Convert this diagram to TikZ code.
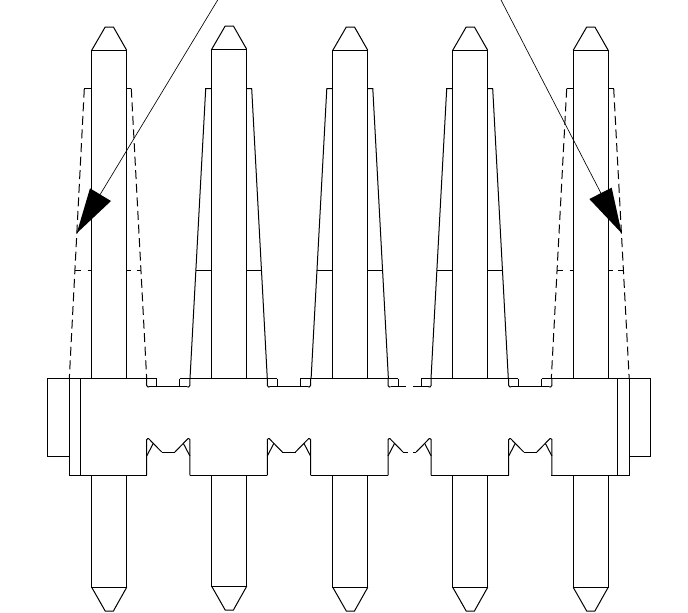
\documentclass[tikz,border=0pt]{standalone}
\begin{document}
\begin{tikzpicture}[x=1pt,y=-1pt,line join=miter,
  outline/.style={draw=black,line width=1.0pt},
  hidden/.style={outline,dash pattern=on 9pt off 4.6pt},
  thin lead/.style={draw=black,line width=0.65pt},
  head/.style={fill=black,draw=none}]
\useasboundingbox (0,0) rectangle (688,613);
% pins
\foreach \l/\sh in {91.7/0,211.7/-1,332.8/0,452.7/0,573.2/0}{
  \pgfmathsetmacro{\r}{\l+35}
  \pgfmathsetmacro{\cl}{\l+13.5}
  \pgfmathsetmacro{\cr}{\l+21.7}
  \draw[outline] (\l,378.7) -- (\l,50.3+\sh) -- (\r,50.3+\sh) -- (\r,378.7);
  \draw[outline] (\l,50.3+\sh) -- (\cl,27+\sh) -- (\cr,27+\sh) -- (\r,50.3+\sh);
  \draw[outline] (\l,475.3) -- (\l,587.3+\sh) -- (\r,587.3+\sh) -- (\r,475.3);
  \draw[outline] (\l,587.3+\sh) -- (\cl,611+\sh) -- (\cr,611+\sh) -- (\r,587.3+\sh);
}
% solid collars
\foreach \l in {211.7,332.8,452.7}{
  \pgfmathsetmacro{\r}{\l+35}
  \draw[outline] (\l,88.7) -- (\l-6,88.7) -- (\l-21.7,378.7);
  \draw[outline] (\r,88.7) -- (\r+5,88.7) -- (\r+20.6,378.7);
  \draw[outline] (\l-16,270.3) -- (\l,270.3);
  \draw[outline] (\r,270.3) -- (\r+14.8,270.3);
}
% dashed collars
\draw[outline] (91.7,88.7) -- (84.3,88.7);
\draw[hidden] (84.3,88.7) -- (69.3,378.7);
\draw[outline] (126.7,88.7) -- (131.3,88.7);
\draw[hidden] (131.3,88.7) -- (146.7,378.7);
\draw[hidden,dash pattern=on 6pt off 6.5pt] (75,270.3) -- (91.7,270.3);
\draw[hidden,dash pattern=on 4.5pt off 5.5pt] (126.7,270.3) -- (140.7,270.3);
\draw[outline] (573.2,88.7) -- (566.7,88.7);
\draw[hidden] (566.7,88.7) -- (551.3,378.7);
\draw[outline] (608.2,88.7) -- (613.7,88.7);
\draw[hidden] (613.7,88.7) -- (629.2,378.7);
\draw[hidden,dash pattern=on 6pt off 6.5pt] (557,270.3) -- (573.2,270.3);
\draw[hidden,dash pattern=on 4.5pt off 5.5pt] (608.2,270.3) -- (624,270.3);
% body outline pieces
\draw[outline] (69.3,378.7) -- (47.3,378.7) -- (47.3,456) -- (69.3,456);
\draw[outline] (69.3,378.7) -- (69.3,475.3) -- (146.7,475.3);
\draw[outline] (80.7,378.7) -- (80.7,475.3);
\draw[outline] (69.3,378.7) -- (156.7,378.7);
\draw[outline] (629.2,378.7) -- (650.7,378.7) -- (650.7,456) -- (629.2,456);
\draw[outline] (629.2,378.7) -- (629.2,475.3) -- (551.3,475.3);
\draw[outline] (617.7,378.7) -- (617.7,475.3);
\draw[outline] (541.7,378.7) -- (629.2,378.7);
\draw[outline] (179.7,378.7) -- (277.3,378.7);
\draw[outline] (300,378.7) -- (398,378.7);
\draw[outline] (420.7,378.7) -- (518.3,378.7);
\draw[outline] (190,475.3) -- (267.3,475.3);
\draw[outline] (310.7,475.3) -- (388,475.3);
\draw[outline] (431,475.3) -- (508.7,475.3);
% notches between pins
\foreach \a/\kind in {146.7/0,267.3/0,388/1,508.7/0}{
  \pgfmathsetmacro{\b}{\a+43.2}
  % top recess
  \draw[outline] (\a,378.7) -- (\a,385.5) -- (\a+1.3,387) -- (\a+2.6,386.7);
  \draw[outline] (\b,378.7) -- (\b,385.5) -- (\b-1.3,387) -- (\b-2.6,386.7);
  \draw[outline] (\a+10,378.7) -- (\a+10,386.7);
  \draw[outline] (\b-10,378.7) -- (\b-10,386.7);
  % bottom recess
  \draw[outline] (\a,475.3) -- (\a,439.6) -- (\a+1,438.7) -- (\a+2,438.7) -- (\a+15,452);
  \draw[outline] (\b,475.3) -- (\b,439.6) -- (\b-1,438.7) -- (\b-2,438.7) -- (\b-15,452);
  \draw[outline] (\a,456) -- (\a+6.6,443.3);
  \draw[outline] (\b,456) -- (\b-6.6,443.3);
  \ifnum\kind=0
    \draw[outline] (\a+2.6,386.7) -- (\b-2.6,386.7);
    \draw[outline] (\a+15,452) -- (\b-15,452);
  \else
    \draw[outline] (\a+2.6,386.7) -- (\a+18,386.7);
    \draw[outline] (\b-18,386.7) -- (\b-2.6,386.7);
    \draw[outline] (\a+15,452) -- (\a+20,452);
    \draw[outline] (\b-15,452) -- (\b-18.5,452);
  \fi
}
% leaders and arrowheads
\coordinate (tipL) at (76.7,233.3);
\coordinate (tipR) at (621.7,233.3);
\coordinate (startL) at (217.7,0);
\coordinate (startR) at (501,0);
\draw[thin lead] (startL) -- (tipL);
\draw[thin lead] (startR) -- (tipR);
\fill[head] (tipL) -- (90,188.3) -- (111,201) -- cycle;
\fill[head] (tipR) -- (611.7,187.7) -- (589.3,199) -- cycle;
\end{tikzpicture}
\end{document}
